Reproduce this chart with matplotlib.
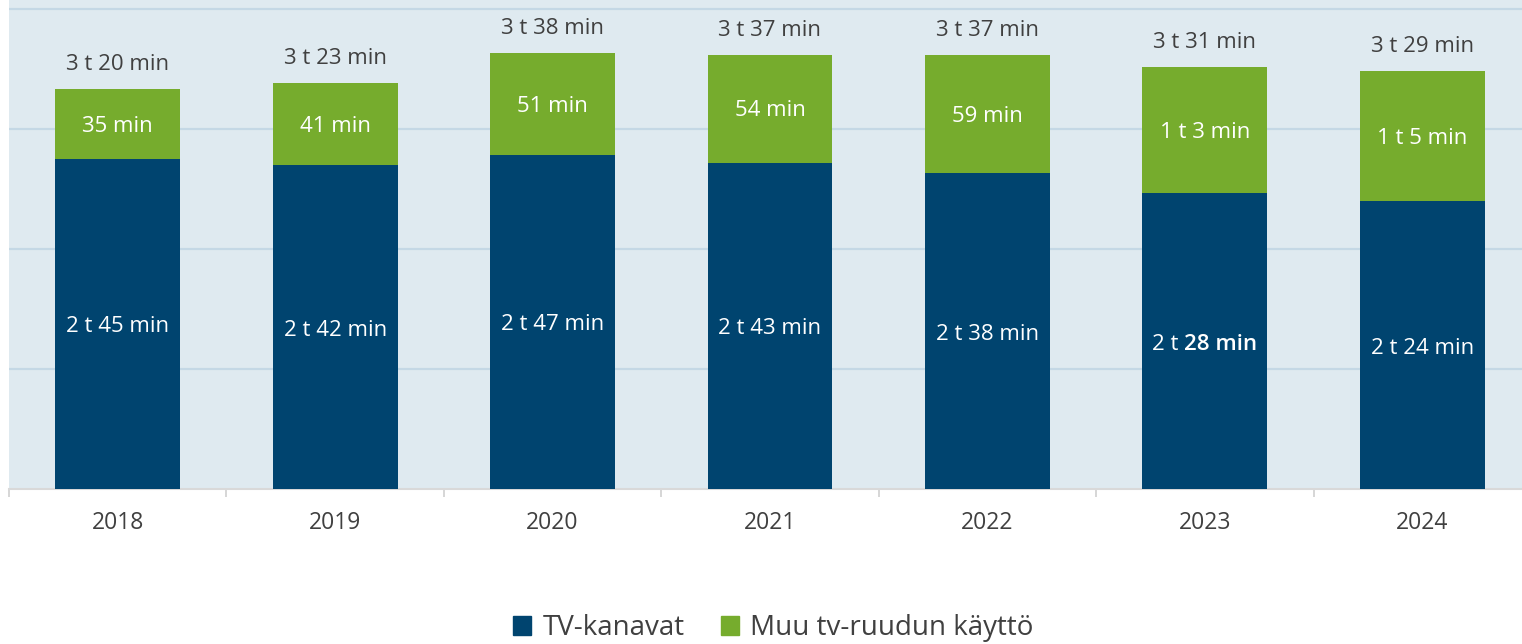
import matplotlib
matplotlib.use("Agg")
import matplotlib.pyplot as plt
import numpy as np
from matplotlib.patches import Patch

plt.rcParams['font.family'] = ['Open Sans', 'DejaVu Sans']

years = ['2018', '2019', '2020', '2021', '2022', '2023', '2024']
tv_min = [165, 162, 167, 163, 158, 148, 144]        # TV-kanavat, minutes
other_min = [35, 41, 51, 54, 59, 63, 65]            # Muu tv-ruudun käyttö
tv_labels = ['2 t 45 min', '2 t 42 min', '2 t 47 min', '2 t 43 min', '2 t 38 min', '2 t 28 min', '2 t 24 min']
other_labels = ['35 min', '41 min', '51 min', '54 min', '59 min', '1 t 3 min', '1 t 5 min']
total_labels = ['3 t 20 min', '3 t 23 min', '3 t 38 min', '3 t 37 min', '3 t 37 min', '3 t 31 min', '3 t 29 min']

navy = '#00446f'
green = '#76ac2d'
txt = '#404040'

fig = plt.figure(figsize=(15.22, 6.44), dpi=100)
ax = fig.add_axes([9 / 1522, (644 - 489) / 644, 1.0, 489 / 644])
ax.set_facecolor('#dfeaf0')

x = np.arange(len(years))
w = 125 / 217.5
ax.bar(x, tv_min, width=w, color=navy, zorder=3)
ax.bar(x, other_min, width=w, bottom=tv_min, color=green, zorder=3)

ax.set_ylim(0, 244.5)
ax.set_xlim(-0.5, 6.5)
ax.set_yticks([60, 120, 180, 240])
ax.yaxis.grid(True, color='#c4d8e5', linewidth=1.6, zorder=0)
ax.tick_params(axis='y', left=False, labelleft=False)

# x axis: labels at centers, ticks at boundaries
ax.set_xticks(x)
ax.set_xticklabels(years, fontsize=16.5, color=txt)
ax.tick_params(axis='x', length=0, pad=16)
ax.set_xticks(np.arange(-0.5, 7.0, 1.0), minor=True)
ax.tick_params(axis='x', which='minor', length=6, color='#d0d0d0', width=1.2, direction='out')

for s in ['top', 'right', 'left']:
    ax.spines[s].set_visible(False)
ax.spines['bottom'].set_color('#d9d9d9')
ax.spines['bottom'].set_linewidth(1.5)

for i in range(len(years)):
    tot = tv_min[i] + other_min[i]
    ymid = tv_min[i] / 2 - 1.5
    if i == 5:
        # "28 min" part appears bold in the source
        ax.annotate('2 t ', xy=(x[i], ymid), xytext=(-15, 0), textcoords='offset points',
                    ha='right', va='center', color='white', fontsize=16, zorder=4)
        ax.annotate('28 min', xy=(x[i], ymid), xytext=(-15, 0), textcoords='offset points',
                    ha='left', va='center', color='white', fontsize=16, fontweight='semibold', zorder=4)
    else:
        ax.text(x[i], ymid, tv_labels[i], ha='center', va='center', color='white', fontsize=16, zorder=4)
    ax.text(x[i], tv_min[i] + other_min[i] / 2 - 1.0, other_labels[i], ha='center', va='center',
            color='white', fontsize=16, zorder=4)
    ax.annotate(total_labels[i], xy=(x[i], tot), xytext=(0, 17.5), textcoords='offset points',
                ha='center', va='center', color=txt, fontsize=16)

handles = [Patch(color=navy, label='TV-kanavat'), Patch(color=green, label='Muu tv-ruudun käyttö')]
fig.legend(handles=handles, loc='center', bbox_to_anchor=(0.508, 1 - 628 / 644), ncol=2, frameon=False,
           fontsize=20, labelcolor=txt, handlelength=0.65, handleheight=0.65, columnspacing=1.3, handletextpad=0.4)

fig.savefig('out.png', dpi=100)
